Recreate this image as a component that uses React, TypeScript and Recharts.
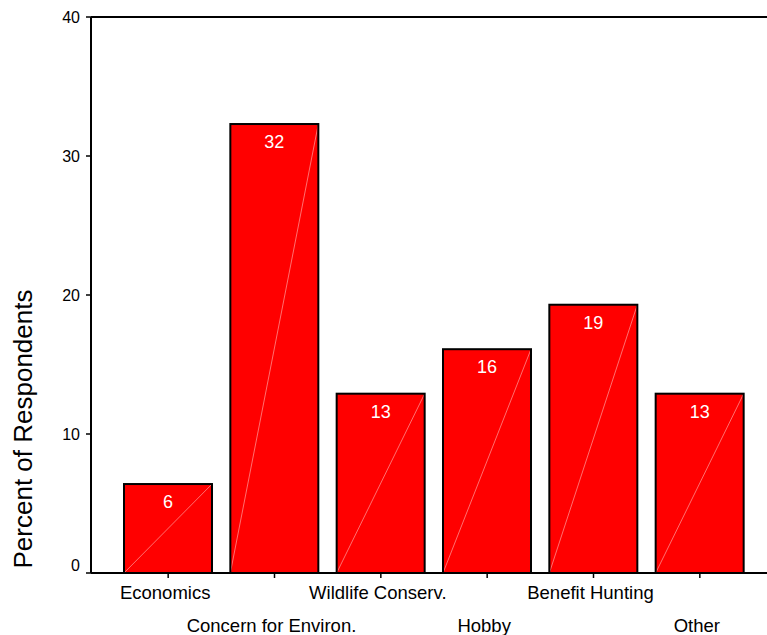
import React from "react";
import { BarChart, Bar, XAxis, YAxis, ReferenceLine, LabelList } from "recharts";

const categories = ["Economics", "Concern for Environ.", "Wildlife Conserv.", "Hobby", "Benefit Hunting", "Other"];
const percents = [6.4, 32.3, 12.9, 16.1, 19.3, 12.9];
const yTicks = [0, 10, 20, 30, 40];

const data = categories.map((c, i) => ({ name: c, value: percents[i] }));

const FONT = "'Liberation Sans', Arial, Helvetica, sans-serif";

const BarShape = (props: any) => {
  const { x, y, width, height } = props;
  return (
    <g>
      <rect x={x} y={y} width={width} height={height} fill="#ff0000" stroke="none" />
      <line x1={x} y1={y + height} x2={x + width} y2={y} stroke="#ff8c8c" strokeWidth={0.8} />
      <rect x={x} y={y} width={width} height={height} fill="none" stroke="#000" strokeWidth={2} />
    </g>
  );
};

const XTick = (props: any) => {
  const { x, y, payload, index } = props;
  const dy = index % 2 === 0 ? 12 : 45;
  return (
    <text x={x - 3} y={y + dy} textAnchor="middle" dominantBaseline="central" fontSize={18.5} fontFamily={FONT} fill="#000">
      {payload.value}
    </text>
  );
};

const YTick = (props: any) => {
  const { x, y, payload } = props;
  const shift = payload.value === 0 ? -8 : 0;
  return (
    <text x={x} y={y + shift} textAnchor="end" dominantBaseline="central" fontSize={16} fontFamily={FONT} fill="#000">
      {payload.value}
    </text>
  );
};

const BarLabel = (props: any) => {
  const { x, y, width, value } = props;
  return (
    <text x={x + width / 2} y={y + 18} textAnchor="middle" dominantBaseline="central" fontSize={18} fontFamily={FONT} fill="#fff">
      {Math.round(value)}
    </text>
  );
};

export default function App() {
  return (
    <div style={{ position: "absolute", left: 0, top: 0, background: "#fff" }}>
      <BarChart width={767} height={635} data={data} margin={{ top: 17, right: 0, bottom: 0, left: 0 }}>
        <XAxis
          dataKey="name"
          height={62}
          interval={0}
          padding={{ left: 24, right: 14 }}
          axisLine={{ stroke: "#000", strokeWidth: 2 }}
          tickLine={{ stroke: "#000", strokeWidth: 1.5 }}
          tickSize={5}
          tick={<XTick />}
        />
        <YAxis
          width={91}
          domain={[0, 40]}
          ticks={yTicks}
          allowDataOverflow
          axisLine={{ stroke: "#000", strokeWidth: 2 }}
          tickLine={{ stroke: "#000", strokeWidth: 1.5 }}
          tickSize={5}
          tickMargin={6}
          tick={<YTick />}
          label={{
            content: () => (
              <text
                x={23}
                y={429}
                transform="rotate(-90, 23, 429)"
                textAnchor="middle"
                dominantBaseline="central"
                fontSize={26}
                fontFamily={FONT}
                fill="#000"
              >
                Percent of Respondents
              </text>
            ),
          }}
        />
        <ReferenceLine y={40} stroke="#000" strokeWidth={2} />
        <Bar dataKey="value" barSize={88} shape={<BarShape />} isAnimationActive={false}>
          <LabelList dataKey="value" content={<BarLabel />} />
        </Bar>
      </BarChart>
    </div>
  );
}
